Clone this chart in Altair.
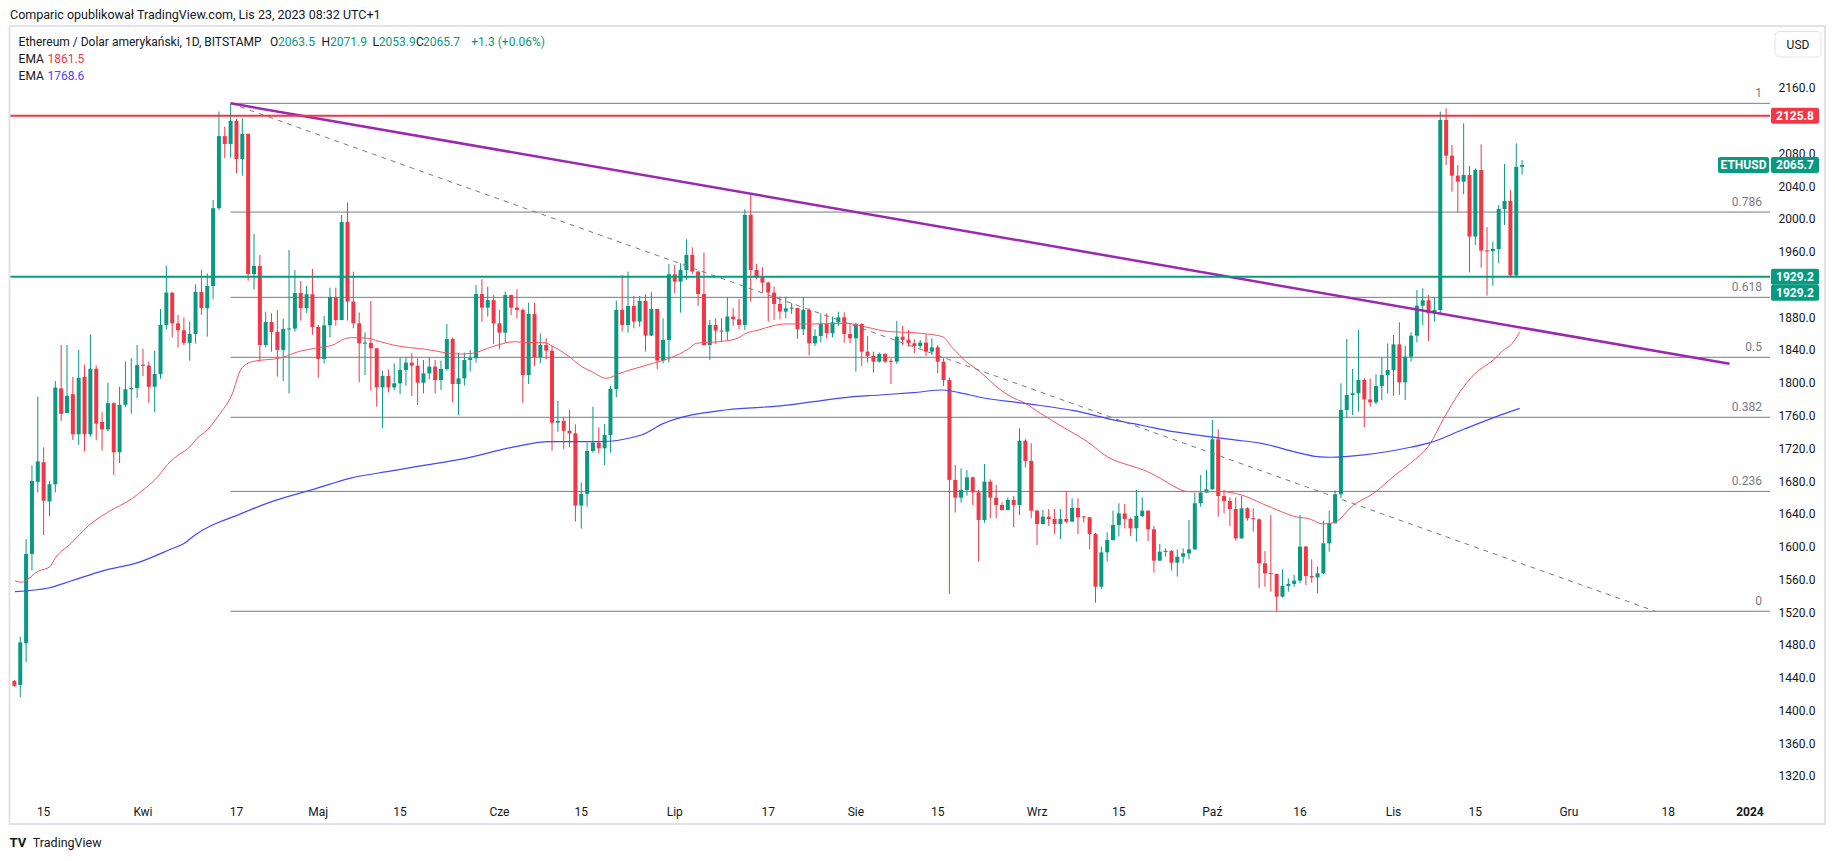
import altair as alt
import pandas as pd

# ---------------- data ----------------
# daily candles (open, high, low, close), one list per month, 2023-03-10 .. 2023-11-23
mar = [(1436, 1437, 1429, 1430), (1431, 1490, 1416, 1483), (1482, 1609, 1459, 1591),
       (1591, 1699, 1571, 1680), (1679, 1783, 1666, 1704), (1703, 1721, 1614, 1656),
       (1655, 1680, 1637, 1676), (1676, 1802, 1666, 1794), (1793, 1846, 1753, 1762),
       (1763, 1846, 1763, 1784), (1786, 1807, 1730, 1737), (1737, 1840, 1724, 1806),
       (1807, 1822, 1716, 1737), (1737, 1859, 1734, 1817), (1817, 1821, 1730, 1750),
       (1752, 1764, 1717, 1743), (1743, 1800, 1741, 1775), (1775, 1776, 1687, 1715),
       (1715, 1795, 1702, 1773), (1773, 1826, 1770, 1792), (1792, 1830, 1762, 1793.5),
       (1793.5, 1846, 1781, 1821.5)]
apr = [(1821.5, 1841.5, 1808, 1821), (1821, 1826, 1775, 1795), (1795, 1839, 1764, 1810.6),
       (1810.6, 1890, 1805, 1870.5), (1870.5, 1942.6, 1864.8, 1909.9), (1909.9, 1910.5, 1855.3, 1872.4),
       (1872.4, 1882.8, 1843, 1864), (1864, 1879.5, 1846, 1848.6), (1848.6, 1874.7, 1826.8, 1859.5),
       (1859.5, 1920, 1847.7, 1911), (1911, 1938, 1882.8, 1891), (1891, 1933.5, 1856.2, 1918),
       (1918, 2023, 1901.8, 2013), (2013, 2131, 2010.8, 2101), (2101, 2112.5, 2074, 2091.4),
       (2091.4, 2141, 2074.7, 2119.5), (2119.5, 2122, 2055.6, 2073), (2073, 2122.7, 2052.7, 2103.6),
       (2103.6, 2104.4, 1924.5, 1932.7), (1932.7, 1981.5, 1913.6, 1942.5), (1942.5, 1955.9, 1825.7, 1846),
       (1846, 1886.7, 1843.2, 1874), (1874, 1884.7, 1837.9, 1862), (1862, 1888.7, 1807.4, 1840),
       (1840, 1877.8, 1802.1, 1865.6), (1865, 1962, 1787, 1866), (1866, 1937.6, 1862.3, 1909.5),
       (1909.5, 1924.1, 1875.7, 1891), (1891, 1918, 1885.1, 1908), (1908, 1938.8, 1858.6, 1868)]
may = [(1868, 1870.4, 1806.1, 1829), (1829, 1881.4, 1823.6, 1870), (1870, 1916, 1855.4, 1904.6),
       (1904.6, 1916, 1869.6, 1876.5), (1876.5, 2004.7, 1876, 1996.2), (1996.2, 2019.8, 1875.7, 1899),
       (1899, 1935.5, 1866.4, 1872.5), (1872.5, 1885.9, 1800.4, 1848), (1848, 1861.5, 1809.4, 1848.5),
       (1848.5, 1899.7, 1790.3, 1842), (1842, 1842.5, 1770.8, 1794.3), (1794.3, 1814.3, 1744.3, 1808.2),
       (1808.2, 1816.3, 1788.2, 1794.3), (1794.3, 1823.6, 1791, 1799.2), (1799.2, 1831, 1786.2, 1815.5),
       (1815.5, 1831, 1796.4, 1824.5), (1824.5, 1835.9, 1783.8, 1820.8), (1820.8, 1829.8, 1772.8, 1800),
       (1800, 1827.7, 1787, 1811.4), (1811.4, 1831, 1804, 1819.6), (1819.6, 1827.7, 1787, 1803.3),
       (1803.3, 1826.9, 1791.1, 1816.7), (1816.7, 1871.7, 1814.7, 1853.3), (1853.3, 1855, 1776, 1798.4),
       (1798.4, 1835.9, 1760.6, 1805.3), (1805.3, 1836.7, 1796.4, 1827.7), (1827.7, 1839.9, 1813.5, 1830),
       (1830, 1919.3, 1824.5, 1908.3), (1908.3, 1926.2, 1874.5, 1891.6), (1891.6, 1917.2, 1880.6, 1900.9),
       (1900.9, 1907, 1847.2, 1872.5)]
jun = [(1872.5, 1888.8, 1840.7, 1861.1), (1861.1, 1911.1, 1848.9, 1907), (1907, 1907.5, 1882.6, 1891.6),
       (1891.6, 1914, 1878.6, 1888.8), (1888.8, 1890.8, 1775.6, 1809.4), (1809.4, 1897.7, 1798.4, 1883.9),
       (1883.9, 1897.7, 1820.4, 1831), (1831, 1860.3, 1823.7, 1846), (1846, 1854.2, 1828.5, 1839.1),
       (1839.1, 1844.8, 1717, 1751.2), (1751.2, 1777.7, 1740.2, 1753.3), (1753.3, 1757.7, 1719, 1741.4),
       (1741.4, 1766.7, 1721.1, 1738.2), (1738.2, 1749.2, 1630.4, 1650), (1650, 1678.4, 1621.8, 1664.2),
       (1664.2, 1726.8, 1648.7, 1716.6), (1716.6, 1770.7, 1714.6, 1726.8), (1726.8, 1745.5, 1713.8, 1719.9),
       (1719.9, 1749.6, 1699.5, 1736.2), (1736.2, 1796, 1714.6, 1792.3), (1792.3, 1900.2, 1782, 1888.8),
       (1888.8, 1931.5, 1862.4, 1870.5), (1870.5, 1935.6, 1861.1, 1893.7), (1893.7, 1905.9, 1866.4, 1874.6),
       (1874.6, 1905.9, 1868.4, 1899.8), (1899.8, 1907.9, 1838, 1857.5), (1857.5, 1910.8, 1857, 1890),
       (1890, 1890.5, 1816.4, 1827), (1827, 1878.6, 1823.7, 1852.2), (1852.2, 1945, 1824.5, 1932.3)]
jul = [(1932.3, 1943.7, 1909.2, 1923.4), (1923.4, 1945.8, 1885.5, 1937.6), (1937.6, 1975.1, 1925.4, 1956),
       (1956, 1965.3, 1932.8, 1935.6), (1935.6, 1937, 1893.7, 1908.3), (1908.3, 1958.8, 1845.5, 1846),
       (1846, 1876.6, 1827.8, 1870.5), (1870.5, 1878.6, 1847.3, 1863.6), (1863.6, 1878.6, 1850.2, 1862.4),
       (1862.4, 1904.3, 1851.4, 1880.7), (1880.7, 1890.8, 1869.3, 1877.4), (1877.4, 1901.8, 1865.2, 1870.5),
       (1870.5, 2011.7, 1864.4, 2004.8), (2004.8, 2029.2, 1899, 1937.6), (1937.6, 1945, 1926.2, 1928.7),
       (1928.7, 1940.9, 1910, 1922.2), (1922.2, 1923.4, 1874.6, 1910), (1910, 1917.3, 1876.6, 1896.1),
       (1896.1, 1905.1, 1877.4, 1886.8), (1886.8, 1905, 1878.6, 1890.8), (1890.8, 1897, 1884, 1891.2),
       (1891.2, 1891.5, 1853.4, 1865.2), (1865.2, 1904.2, 1858.3, 1888.8), (1888.8, 1890.8, 1833, 1848.1),
       (1848.1, 1865.2, 1844.8, 1857), (1857, 1884.7, 1849, 1871.7), (1871.7, 1884.7, 1854.2, 1860.3),
       (1860.3, 1880.6, 1855.4, 1873.7), (1873.7, 1886.7, 1869.3, 1879.8), (1879.8, 1885.9, 1848.9, 1859.5),
       (1859.5, 1872.5, 1848.1, 1854.2)]
aug = [(1854.2, 1873.3, 1813.5, 1871.7), (1871.7, 1872.5, 1820.4, 1837.9), (1837.9, 1857, 1824.5, 1832.6),
       (1832.6, 1837.9, 1812.3, 1825.7), (1825.7, 1836.7, 1824.5, 1835.1), (1835.1, 1835.9, 1823.7, 1825.7),
       (1826.5, 1829.8, 1798.5, 1825.7), (1825.7, 1875.4, 1822.9, 1856.2), (1856.2, 1869.3, 1846, 1852.2),
       (1852.2, 1864.4, 1844, 1848.1), (1848.1, 1853, 1835.9, 1844.8), (1844.8, 1852.2, 1842, 1848.9),
       (1848.9, 1859, 1832.6, 1837.9), (1837.9, 1854.2, 1833.9, 1843.2), (1843.2, 1846, 1811.5, 1825.7),
       (1825.7, 1829.8, 1796, 1803.3), (1803.3, 1806.6, 1542.1, 1681.3), (1681.3, 1699.6, 1641.4, 1659.7),
       (1659.7, 1695.5, 1653.6, 1669), (1669, 1693.5, 1662.1, 1684.5), (1684.5, 1685.3, 1650.8, 1666.2),
       (1666.2, 1669, 1581.6, 1632.4), (1632.4, 1700.8, 1629.2, 1679.2), (1679.2, 1682, 1634.4, 1659.7),
       (1659.7, 1675.1, 1634.4, 1650.7), (1650.7, 1654, 1643.8, 1644.6), (1644.6, 1659.7, 1644.2, 1656.8),
       (1656.8, 1661.7, 1623.5, 1650.7), (1650.7, 1744.3, 1638.5, 1729.2), (1729.2, 1730.9, 1696.7, 1704.5),
       (1704.5, 1726, 1634.4, 1643.8)]
sep = [(1643.8, 1645, 1601.9, 1627.5), (1627.5, 1644.6, 1627, 1636.5), (1636.5, 1645.8, 1625.1, 1633.6),
       (1633.6, 1645.8, 1615.3, 1627.5), (1627.5, 1645.8, 1609.2, 1633.6), (1633.6, 1667.8, 1628, 1630.4),
       (1630.4, 1658.9, 1630, 1647.1), (1647.1, 1658.9, 1615.3, 1635.7), (1636.5, 1637.3, 1629.2, 1635.7),
       (1635.7, 1636, 1596.6, 1615.3), (1615.3, 1616.9, 1531.5, 1551), (1551, 1600, 1548, 1592.9),
       (1592.9, 1617.3, 1581.6, 1608), (1608, 1643.8, 1607.2, 1626.3), (1626.3, 1652.8, 1612.1, 1640.5),
       (1640.5, 1651.9, 1622.2, 1633.6), (1633.6, 1635.3, 1612.9, 1622.2), (1622.2, 1669, 1606, 1637.3),
       (1637.3, 1660.1, 1635.7, 1643.8), (1643.8, 1644.2, 1606.8, 1621), (1621, 1625.1, 1568.1, 1582.8),
       (1582.8, 1603.1, 1582.5, 1593.7), (1593.7, 1597.8, 1587.7, 1594.5), (1594.5, 1595.8, 1570.6, 1580.3),
       (1580.3, 1596.6, 1563.3, 1587.6), (1587.6, 1597.8, 1579.5, 1591.7), (1591.7, 1632.4, 1584.4, 1596.6),
       (1596.6, 1665.8, 1596, 1652.8), (1652.8, 1687.4, 1648.7, 1665.8), (1665.8, 1693.5, 1665.5, 1669.9)]
oct_ = [(1669.9, 1754.5, 1669, 1730.9), (1730.9, 1743.1, 1636.5, 1661.7), (1661.7, 1669, 1640.6, 1655.6),
        (1655.6, 1660.1, 1625.1, 1645.8), (1645.8, 1660.1, 1607.2, 1610), (1610, 1661.7, 1609.5, 1646.7),
        (1646.7, 1647.9, 1631.6, 1634.4), (1634.4, 1646.7, 1618.2, 1633.2), (1633.2, 1634.4, 1549, 1579.5),
        (1579.5, 1594.6, 1551, 1567.3), (1567.3, 1638.5, 1544.9, 1566.5), (1566.5, 1567, 1520.5, 1538.8),
        (1538.8, 1572.2, 1537.6, 1551.9), (1551.9, 1561.2, 1544.9, 1554.3), (1554.3, 1565.3, 1551, 1558.4),
        (1558.4, 1638.5, 1555.1, 1599.9), (1599.9, 1600.7, 1553, 1564), (1564, 1584.4, 1555.9, 1562.4),
        (1562.4, 1575.5, 1542.9, 1567.3), (1567.3, 1631.6, 1566.5, 1603.9), (1603.9, 1643.8, 1593.8, 1628.4),
        (1628.4, 1668.2, 1628, 1663.8), (1663.8, 1799.3, 1658.9, 1766.7), (1766.7, 1853.4, 1757.8, 1785),
        (1785, 1816.8, 1760.6, 1787.1), (1787.1, 1864.4, 1764.7, 1803.3), (1803.3, 1805.4, 1745.5, 1779.5),
        (1779.5, 1805.3, 1770.8, 1776), (1776, 1810.2, 1773.6, 1796), (1796, 1830.6, 1778.9, 1809.4),
        (1809.4, 1848, 1787, 1815.5)]
nov = [(1815.5, 1858.2, 1784.2, 1846.8), (1846.8, 1873.7, 1785, 1800.4), (1800.4, 1845.2, 1778.9, 1831.8),
       (1831.8, 1861.5, 1825.7, 1857.4), (1857.4, 1913.2, 1849.3, 1894), (1894, 1915.2, 1870.4, 1900.6),
       (1900.6, 1907.1, 1850.9, 1884.7), (1884.7, 1904.2, 1874.5, 1888.8), (1888.8, 2130.9, 1882.6, 2120.7),
       (2120.7, 2134.9, 2065.7, 2077.1), (2077.1, 2090.2, 2033.2, 2052.7), (2052.7, 2065.7, 2008, 2045.4),
       (2045.4, 2116.6, 2029.9, 2053.5), (2053.5, 2064.5, 1934.7, 1978.3), (1978.3, 2061.7, 1968.1, 2059.6),
       (2059.6, 2091, 1940.4, 1961.2), (1961.2, 1990.1, 1906.2, 1960.5), (1960.5, 1972.2, 1918.4, 1963.2),
       (1963.2, 2016.9, 1945.7, 2012), (2012, 2067, 1992.5, 2021.8), (2021.8, 2035.2, 1929.2, 1931),
       (1931, 2092.2, 1929.2, 2063.5), (2063.5, 2071.9, 2053.9, 2065.7)]
first_date = "2023-03-10"

# EMA samples (days after 2023-04-01, value)
ema_red_days = [-21.9, -20.8, -17.9, -15.9, -15.1, -12.3, -9.4, -6.0, -2.0, 0.2, 2.5, 4.2, 5.9, 7.1, 8.2, 9.1,
                11.0, 13.0, 15.2, 16.8, 18.7, 23.8, 26.6, 29.4, 32.8, 34.0, 35.7, 38.5, 40.2, 42.8, 48.4, 54.1,
                56.4, 59.8, 63.7, 65.4, 68.8, 70.0, 72.8, 75.1, 76.8, 79.3, 81.6, 87.3, 90.1, 93.5, 94.7, 98.6,
                101.5, 103.2, 105.4, 107.7, 110.0, 114.8, 120.5, 123.9, 127.8, 131.8, 134.1, 136.8, 138.6, 140.9,
                143.2, 146.8, 148.5, 150.8, 153.6, 157.1, 161.6, 165.0, 169.5, 171.2, 174.1, 176.3, 178.9, 181.1,
                184.5, 188.0, 191.4, 194.8, 197.6, 199.3, 201.9, 203.8, 207.2, 210.6, 214.1, 216.9, 220.3, 222.6,
                225.4, 227.7, 231.1, 233.0, 233.9, 235.6]
ema_red_vals = [1558, 1556.5, 1570, 1575.5, 1585, 1604, 1625, 1642, 1658, 1670, 1685, 1700, 1711, 1716.6, 1723,
                1731, 1742.3, 1760.6, 1785, 1816.7, 1825.7, 1830.6, 1837.9, 1842, 1846.8, 1852, 1855, 1854.2,
                1850.9, 1846, 1840.7, 1835, 1835.9, 1844, 1850.1, 1848.9, 1848.9, 1844.8, 1832.6, 1819.6, 1813.5,
                1805.4, 1811.5, 1823.7, 1829.8, 1842, 1848.1, 1850.1, 1853.4, 1860.3, 1864.4, 1869.3, 1871.7,
                1871.7, 1872.5, 1867.6, 1862.3, 1861.1, 1859.5, 1856.2, 1842, 1825.7, 1813.5, 1791, 1783, 1775.6,
                1762.6, 1747.2, 1728, 1709.7, 1697.5, 1693.5, 1683.3, 1673.9, 1667, 1667, 1667, 1662.9, 1652.8,
                1642.6, 1635.7, 1634.5, 1627.6, 1629.2, 1650.8, 1665, 1686.2, 1701.6, 1726, 1756.6, 1789.1,
                1809.5, 1827.8, 1840.8, 1844.9, 1861.5]
ema_blue_days = [-21.9, -16.2, -12.3, -6.6, -0.9, 1.9, 4.8, 7.1, 8.5, 16.9, 21.2, 29.7, 35.4, 42.8, 46.7, 55.2,
                 63.7, 69.4, 77.9, 85.3, 89.0, 100.0, 109.1, 114.8, 120.5, 126.1, 131.8, 136.9, 139.7, 143.2,
                 150.8, 159.3, 166.7, 170.7, 176.3, 181.1, 186.8, 191.4, 197.6, 201.0, 203.2, 208.9, 216.9,
                 220.3, 226.0, 231.6, 235.6]
ema_blue_vals = [1545, 1549.4, 1558, 1571, 1580.3, 1588, 1597, 1603.9, 1612, 1640.5, 1652.7, 1671, 1683.3, 1692.6,
                 1697.5, 1707.7, 1721.9, 1728, 1728, 1736.2, 1750, 1767, 1771.6, 1776.9, 1782.2, 1785, 1787.9,
                 1791.1, 1787.9, 1782.2, 1774.8, 1765.9, 1753.7, 1748.4, 1740.2, 1735.4, 1730.1, 1726, 1714.6,
                 1709.7, 1709, 1711.8, 1721.2, 1726.9, 1743.1, 1758.6, 1768.6]

# drawings
trend_dates = ["2023-04-16T00:00", "2023-12-28T12:00"]
trend_vals = [2141, 1823]
dash_dates = ["2023-04-16T00:00", "2023-12-15T19:00"]
dash_vals = [2141, 1521]
fib_start = "2023-04-16T00:00"
fib_names = ["1", "0.786", "0.618", "0.5", "0.382", "0.236", "0"]
fib_prices = [2141, 2008.3, 1904.2, 1831.0, 1757.8, 1667.3, 1521]
resistance = 2125.8
support = 1929.2
last_price = 2065.7

tick_dates = ["2023-03-15", "2023-04-01", "2023-04-17", "2023-05-01", "2023-05-15", "2023-06-01",
              "2023-06-15", "2023-07-01", "2023-07-17", "2023-08-01", "2023-08-15", "2023-09-01",
              "2023-09-15", "2023-10-01", "2023-10-16", "2023-11-01", "2023-11-15", "2023-12-01",
              "2023-12-18", "2024-01-01"]
tick_labels = ["15", "Kwi", "17", "Maj", "15", "Cze", "15", "Lip", "17", "Sie", "15", "Wrz", "15", "Paź",
               "16", "Lis", "15", "Gru", "18", "2024"]
# price labels; 2120 and 1920 sit under the price tags in the reference
price_ticks = [1320, 1360, 1400, 1440, 1480, 1520, 1560, 1600, 1640, 1680, 1720, 1760, 1800, 1840, 1880,
               1960, 2000, 2040, 2080, 2160]

# ---------------- styles ----------------
GREEN = "#089981"
RED = "#f23645"
EMA_RED = "#f7525f"
EMA_BLUE = "#4646ff"
PURPLE = "#9c27b0"
GRAY = "#787b86"
TXT = "#131722"
FRAME = "#e0e3eb"
FONT = "Roboto"
W, H = 1761, 770
BASE = pd.Timestamp("2023-04-01")


def to_day(s):
    return (pd.to_datetime(pd.Series(s), format="ISO8601") - BASE) / pd.Timedelta(days=1)


rows = mar + apr + may + jun + jul + aug + sep + oct_ + nov
dates = pd.date_range(first_date, periods=len(rows), freq="D")
df = pd.DataFrame(rows, columns=["open", "high", "low", "close"])
df["date"] = dates.strftime("%Y-%m-%d")
df["day"] = (dates - BASE).days
df["up"] = df["close"] >= df["open"]
df["b0"] = df[["open", "close"]].min(axis=1)
df["b1"] = df[["open", "close"]].max(axis=1)
thin = (df["b1"] - df["b0"]) < 1.3
mid = (df["b0"] + df["b1"]) / 2
df.loc[thin, "b0"] = mid[thin] - 0.65
df.loc[thin, "b1"] = mid[thin] + 0.65

xscale = alt.Scale(domain=[-22.07, 277.57], nice=False, zero=False)
yscale = alt.Scale(domain=[1295.5, 2235.4], nice=False, zero=False)
yaxis = alt.Axis(orient="right", values=price_ticks, format=".1f", labelPadding=8, ticks=False,
                 domain=False, grid=False, labelColor=TXT, labelFontSize=12, labelFont=FONT,
                 title=None, labelAlign="left", labelBaseline="middle", labelFlush=False)


def X(f):
    return alt.X(f, type="quantitative", scale=xscale, axis=None)


def Y(f):
    return alt.Y(f, type="quantitative", scale=yscale, axis=yaxis)


dummy = pd.DataFrame({"k": [0]})


def label(text, x, y, color=TXT, size=12, align="left", weight="normal", baseline="middle"):
    return alt.Chart(dummy).mark_text(text=text, align=align, baseline=baseline, fontSize=size,
                                      fontWeight=weight, color=color, font=FONT).encode(
        x=alt.value(x), y=alt.value(y))


def tag(price, text, color, x0, x1, shift=0):
    d = pd.DataFrame({"p": [price]})
    box = alt.Chart(d).mark_rect(color=color, yOffset=shift - 8, y2Offset=shift + 8, cornerRadius=2).encode(
        x=alt.value(x0), x2=alt.value(x1), y=Y("p"), y2="p")
    t = alt.Chart(d).mark_text(text=text, color="white", fontSize=12, fontWeight="bold", font=FONT,
                               align="center", baseline="middle", dy=shift).encode(
        x=alt.value((x0 + x1) / 2), y=Y("p"))
    return [box, t]


cond = alt.condition("datum.up", alt.value(GREEN), alt.value(RED))

frame = alt.Chart(dummy).mark_rect(fill="transparent", stroke=FRAME, strokeWidth=2).encode(
    x=alt.value(0.5), x2=alt.value(1816), y=alt.value(0), y2=alt.value(798))

wicks = alt.Chart(df).mark_rule(strokeWidth=1, clip=True).encode(
    x=X("day"), y=Y("low"), y2="high", color=cond)
bodies = alt.Chart(df).mark_bar(width=4, clip=True).encode(
    x=X("day"), y=Y("b0"), y2="b1", color=cond)

red_df = pd.DataFrame({"day": ema_red_days, "v": ema_red_vals})
blue_df = pd.DataFrame({"day": ema_blue_days, "v": ema_blue_vals})
ema_red = alt.Chart(red_df).mark_line(color=EMA_RED, strokeWidth=1, clip=True, interpolate="monotone").encode(
    x=X("day"), y=Y("v"))
ema_blue = alt.Chart(blue_df).mark_line(color=EMA_BLUE, strokeWidth=1.2, clip=True, interpolate="monotone").encode(
    x=X("day"), y=Y("v"))

fib_df = pd.DataFrame({"name": fib_names, "price": fib_prices})
fib_df["start"] = float(to_day([fib_start]).iloc[0])
fib_lines = alt.Chart(fib_df).mark_rule(color=GRAY, strokeWidth=1).encode(
    x=X("start"), x2=alt.value(W), y=Y("price"))
fib_text = alt.Chart(fib_df).mark_text(color=GRAY, fontSize=12, font=FONT, align="right",
                                       baseline="bottom", dy=-3).encode(
    x=alt.value(1753), y=Y("price"), text="name:N")

dash_df = pd.DataFrame({"day": to_day(dash_dates), "v": dash_vals})
dash = alt.Chart(dash_df).mark_line(color=GRAY, strokeWidth=1, strokeDash=[5, 5]).encode(
    x=X("day"), y=Y("v"))
trend_df = pd.DataFrame({"day": to_day(trend_dates), "v": trend_vals})
trend = alt.Chart(trend_df).mark_line(color=PURPLE, strokeWidth=2.5).encode(
    x=X("day"), y=Y("v"))

hl = pd.DataFrame({"p": [resistance, support], "c": ["r", "g"]})
res_line = alt.Chart(hl[hl.c == "r"]).mark_rule(color=RED, strokeWidth=2).encode(
    x=alt.value(0), x2=alt.value(W), y=Y("p"))
sup_line = alt.Chart(hl[hl.c == "g"]).mark_rule(color=GREEN, strokeWidth=2).encode(
    x=alt.value(0), x2=alt.value(W), y=Y("p"))

tick_df = pd.DataFrame({"day": to_day(tick_dates), "label": tick_labels})
tick_df["bold"] = tick_df["label"].str.len() == 4
ticks_norm = alt.Chart(tick_df[~tick_df.bold]).mark_text(color=TXT, fontSize=12, font=FONT, align="center",
                                                        baseline="middle").encode(
    x=X("day"), y=alt.value(786), text="label:N")
ticks_bold = alt.Chart(tick_df[tick_df.bold]).mark_text(color=TXT, fontSize=12, font=FONT, align="center",
                                                       baseline="middle", fontWeight="bold").encode(
    x=X("day"), y=alt.value(786), text="label:N")

usd_box = alt.Chart(dummy).mark_rect(fill="white", stroke=FRAME, strokeWidth=1, cornerRadius=4).encode(
    x=alt.value(1766), x2=alt.value(1812), y=alt.value(5.5), y2=alt.value(31))

layers = [fib_lines, wicks, bodies, ema_red, ema_blue, dash, trend, res_line, sup_line, frame, fib_text,
          ticks_norm, ticks_bold, usd_box, label("USD", 1789, 18.5, align="center")]
layers += tag(resistance, f"{resistance:.1f}", RED, 1762, 1810)
layers += tag(last_price, "ETHUSD", GREEN, 1709, 1760)
layers += tag(last_price, f"{last_price:.1f}", GREEN, 1762, 1810)
layers += tag(support, f"{support:.1f}", GREEN, 1762, 1810)
layers += tag(support, f"{support:.1f}", GREEN, 1762, 1810, shift=16)

# header / legend
layers += [
    label("Comparic opublikował TradingView.com, Lis 23, 2023 08:32 UTC+1", 1, -11, size=12.5),
    label("Ethereum / Dolar amerykański, 1D, BITSTAMP", 9.6, 16.3, size=12),
    label("O", 261, 16.3), label("2063.5", 269, 16.3, color=GREEN),
    label("H", 312.5, 16.3), label("2071.9", 321, 16.3, color=GREEN),
    label("L", 363.5, 16.3), label("2053.9", 369.8, 16.3, color=GREEN),
    label("C", 407, 16.3), label("2065.7", 414, 16.3, color=GREEN),
    label("+1.3 (+0.06%)", 462.3, 16.3, color=GREEN),
    label("EMA", 9.6, 33), label("1861.5", 38.4, 33, color=RED),
    label("EMA", 9.6, 50), label("1768.6", 38.4, 50, color=EMA_BLUE),
    label("TV", 0.5, 817, size=13, weight="bold"),
    label("TradingView", 23.8, 817, size=12.5),
]

chart = alt.layer(*layers).properties(
    width=W, height=H,
    padding={"left": 1, "top": 18, "right": 57, "bottom": 57},
    autosize=alt.AutoSizeParams(type="none"),
    background="white",
).configure_view(stroke=None)

chart.save("out.html", embed_options={"renderer": "svg", "actions": False})
